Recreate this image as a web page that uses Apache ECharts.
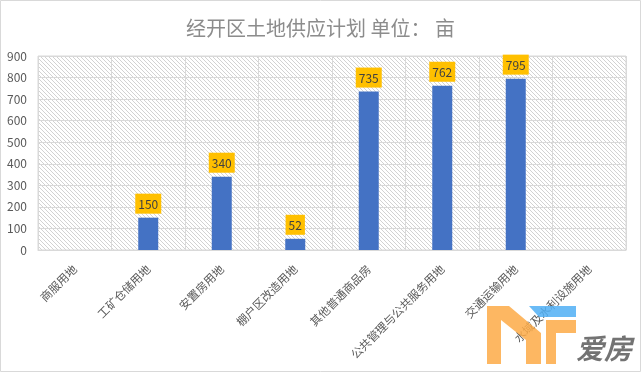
<!DOCTYPE html>
<html>
<head>
<meta charset="utf-8">
<script src="https://cdn.jsdelivr.net/npm/echarts@6/dist/echarts.min.js"></script>
<style>
html,body{margin:0;padding:0;background:#fff;}
#main{width:641px;height:372px;}
</style>
</head>
<body>
<div id="main"></div>
<script>
const titleText = '经开区土地供应计划 单位： 亩';
const categories = ['商服用地','工矿仓储用地','安置房用地','棚户区改造用地','其他普通商品房','公共管理与公共服务用地','交通运输用地','水域及水利设施用地'];
const values = [null, 150, 340, 52, 735, 762, 795, null];
const yTicks = [0, 100, 200, 300, 400, 500, 600, 700, 800, 900];

// hatch pattern
const pc = document.createElement('canvas');
pc.width = 4; pc.height = 4;
const pctx = pc.getContext('2d');
pctx.fillStyle = '#ffffff';
pctx.fillRect(0,0,4,4);
pctx.fillStyle = '#d2d2d2';
for (let i = 0; i < 4; i++) pctx.fillRect(i, i, 1, 1);

const chart = echarts.init(document.getElementById('main'), null, {renderer:'canvas'});
const font = '"Noto Sans CJK SC", "Microsoft YaHei", sans-serif';
const orange = 'rgba(253,170,70,0.85)';
chart.setOption({
  animation: false,
  backgroundColor: '#ffffff',
  title: {
    text: titleText,
    left: 'center',
    top: 13,
    textStyle: {fontSize: 20, fontWeight: 'normal', color: '#8c8c8c', fontFamily: font}
  },
  grid: {
    left: 38, right: 15, top: 56, bottom: 122,
    show: true,
    borderColor: '#d9d9d9',
    borderWidth: 1,
    backgroundColor: {image: pc, repeat: 'repeat'}
  },
  xAxis: {
    type: 'category',
    data: categories,
    boundaryGap: true,
    axisLine: {show: true, lineStyle: {color: '#d9d9d9'}},
    axisTick: {show: false},
    splitLine: {show: true, lineStyle: {color: '#d9d9d9', width: 1}},
    axisLabel: {rotate: 45, interval: 0, margin: 17, color: '#595959', fontSize: 11.5, fontFamily: font}
  },
  yAxis: {
    type: 'value',
    min: yTicks[0],
    max: yTicks[yTicks.length - 1],
    interval: yTicks[1] - yTicks[0],
    axisLine: {show: false},
    axisTick: {show: false},
    splitLine: {show: true, lineStyle: {color: '#d9d9d9', width: 1}},
    axisLabel: {margin: 11, color: '#595959', fontSize: 12, fontFamily: font}
  },
  series: [{
    type: 'bar',
    data: values,
    barWidth: 20,
    itemStyle: {color: '#4472C4'},
    label: {
      show: true,
      position: 'top',
      distance: 4,
      backgroundColor: '#FFC000',
      padding: [4, 3, 3, 3],
      lineHeight: 13,
      color: '#404040',
      fontSize: 12,
      fontFamily: font
    }
  }],
  graphic: [
    {type: 'rect', shape: {x: 0.5, y: 0.5, width: 640, height: 371}, style: {fill: 'none', stroke: '#d9d9d9', lineWidth: 1}, z: 100},
    {type: 'polygon', z: 100, shape: {points: [[487,306],[509,306],[541,333],[541,364],[526,364],[526,340],[501,320],[501,364],[487,364]]}, style: {fill: orange}},
    {type: 'polygon', z: 100, shape: {points: [[546,320],[576,320],[576,333],[556,333],[556,364],[546,364]]}, style: {fill: orange}},
    {type: 'polygon', z: 100, shape: {points: [[529,306],[576,306],[576,317],[539,317]]}, style: {fill: 'rgba(80,175,245,0.85)'}},
    {type: 'text', z: 101, left: 576, top: 334, style: {text: '爱房', fill: 'rgba(100,100,100,0.9)', font: 'italic bold 28px "Noto Sans CJK SC", sans-serif'}}
  ]
});
</script>
</body>
</html>
